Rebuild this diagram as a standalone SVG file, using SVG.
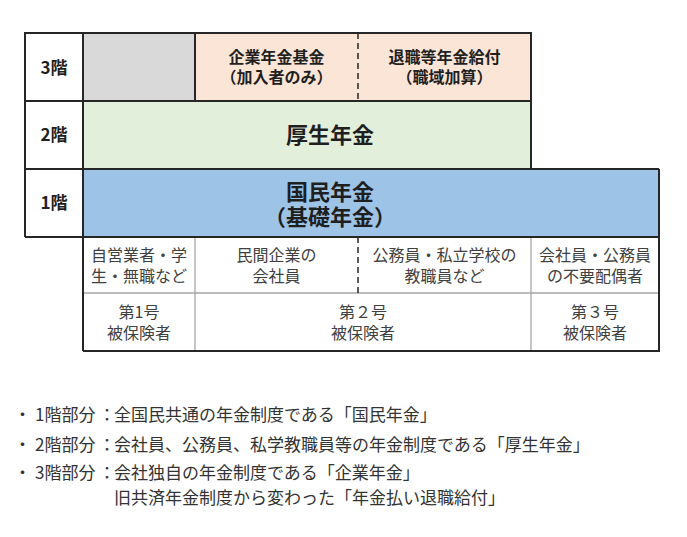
<svg xmlns="http://www.w3.org/2000/svg" width="687" height="537" viewBox="0 0 687 537">
<style>
text{font-family:"Noto Sans CJK JP","Noto Sans",sans-serif;}
.lbl{font-size:17px;font-weight:bold;fill:#1f1f1f;text-anchor:middle;}
.b16{font-size:16px;font-weight:bold;fill:#1f1f1f;text-anchor:middle;}
.big{font-size:22px;font-weight:bold;fill:#1f1f1f;text-anchor:middle;}
.sm{font-size:16px;fill:#404040;text-anchor:middle;}
.note{font-size:17px;fill:#333333;}
.dk{stroke:#262626;stroke-width:2;fill:none;}
.gr{stroke:#a6a6a6;stroke-width:1.3;fill:none;}
.ds{stroke:#262626;stroke-width:1.5;stroke-dasharray:6 4;fill:none;}
</style>
<rect width="687" height="537" fill="#ffffff"/>
<g id="floor3">
<rect x="25" y="33" width="58" height="68" fill="#ffffff"/>
<rect x="83" y="33" width="112" height="68" fill="#d9d9d9"/>
<rect x="195" y="33" width="336" height="68" fill="#fbe5d6"/>
<text class="lbl" x="54" y="74">3階</text>
</g>
<g id="kigyo">
<text class="b16"><tspan x="276.5" y="63">企業年金基金</tspan><tspan x="276.5" y="83">（加入者のみ）</tspan></text>
</g>
<g id="taishoku">
<text class="b16"><tspan x="444.5" y="63">退職等年金給付</tspan><tspan x="444.5" y="83">（職域加算）</tspan></text>
</g>
<g id="floor2">
<rect x="25" y="101" width="58" height="68" fill="#ffffff"/>
<rect x="83" y="101" width="448" height="68" fill="#e2efda"/>
<text class="lbl" x="54" y="141">2階</text>
<text class="big" x="330" y="143">厚生年金</text>
</g>
<g id="floor1">
<rect x="25" y="169" width="58" height="68" fill="#ffffff"/>
<rect x="83" y="169" width="576" height="68" fill="#9dc3e6"/>
<text class="lbl" x="54" y="209">1階</text>
<text class="big"><tspan x="330" y="200">国民年金</tspan><tspan x="330" y="225">（基礎年金）</tspan></text>
</g>
<g id="insured">
<text class="sm"><tspan x="139" y="261">自営業者・学</tspan><tspan x="139" y="282">生・無職など</tspan></text>
<text class="sm"><tspan x="276.5" y="261">民間企業の</tspan><tspan x="276.5" y="282">会社員</tspan></text>
<text class="sm"><tspan x="444.5" y="261">公務員・私立学校の</tspan><tspan x="444.5" y="282">教職員など</tspan></text>
<text class="sm"><tspan x="595" y="261">会社員・公務員</tspan><tspan x="595" y="282">の不要配偶者</tspan></text>
<text class="sm"><tspan x="139" y="318">第1号</tspan><tspan x="139" y="339">被保険者</tspan></text>
<text class="sm"><tspan x="363" y="318">第２号</tspan><tspan x="363" y="339">被保険者</tspan></text>
<text class="sm"><tspan x="595" y="318">第３号</tspan><tspan x="595" y="339">被保険者</tspan></text>
</g>
<g id="connectors">
<line class="gr" x1="195" y1="237" x2="195" y2="351"/>
<line class="gr" x1="531" y1="237" x2="531" y2="351"/>
<line class="gr" x1="83" y1="293" x2="659" y2="293"/>
<line class="ds" x1="358" y1="237" x2="358" y2="293"/>
<line class="ds" x1="358" y1="33" x2="358" y2="101"/>
<polyline class="dk" points="25,237 25,33 531,33 531,169"/>
<line class="dk" x1="25" y1="101" x2="531" y2="101"/>
<line class="dk" x1="25" y1="169" x2="659" y2="169"/>
<line class="dk" x1="25" y1="237" x2="659" y2="237"/>
<line class="dk" x1="83" y1="33" x2="83" y2="351"/>
<line class="dk" x1="195" y1="33" x2="195" y2="101"/>
<polyline class="dk" points="659,169 659,351 83,351"/>
</g>
<g id="notes">
<text class="note"><tspan x="14" y="421">・</tspan><tspan x="35" y="421">1階部分</tspan><tspan x="98.5" y="421">：</tspan><tspan x="114" y="421">全国民共通の年金制度である「国民年金」</tspan></text>
<text class="note"><tspan x="14" y="451">・</tspan><tspan x="35" y="451">2階部分</tspan><tspan x="98.5" y="451">：</tspan><tspan x="114" y="451">会社員、公務員、私学教職員等の年金制度である「厚生年金」</tspan></text>
<text class="note"><tspan x="14" y="479">・</tspan><tspan x="35" y="479">3階部分</tspan><tspan x="98.5" y="479">：</tspan><tspan x="114" y="479">会社独自の年金制度である「企業年金」</tspan><tspan x="114" y="504">旧共済年金制度から変わった「年金払い退職給付」</tspan></text>
</g>
</svg>
